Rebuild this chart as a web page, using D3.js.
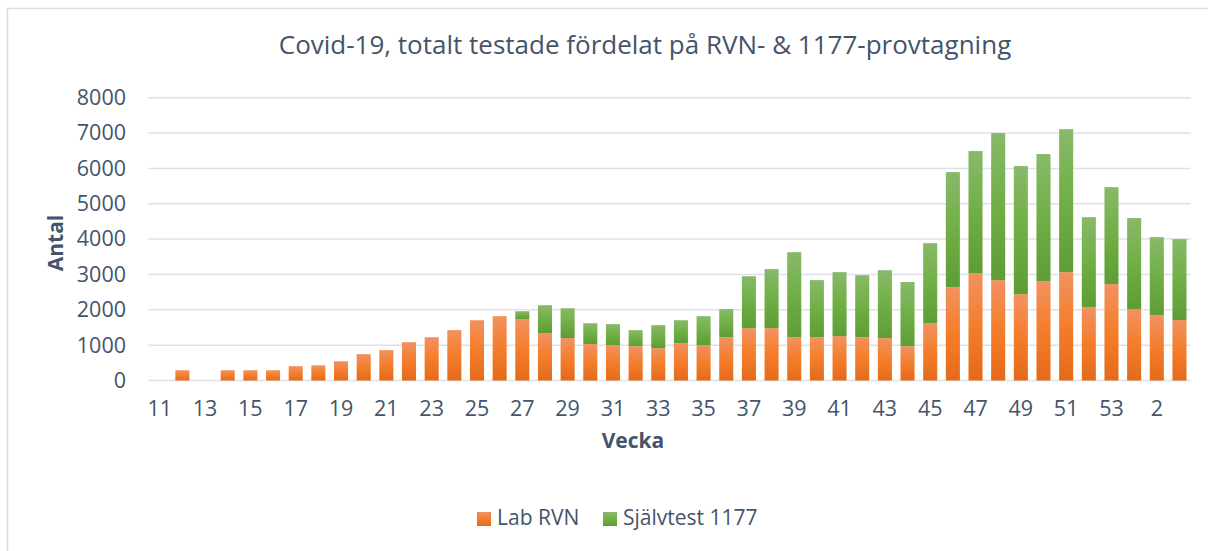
<!DOCTYPE html>
<html>
<head>
<meta charset="utf-8">
<script src="https://cdn.jsdelivr.net/npm/d3@7"></script>
<style>
  body { margin: 0; background: #fff; }
  text { font-family: "Open Sans", sans-serif; fill: #44546A; }
</style>
</head>
<body>
<script>
(function (d3) {
	'use strict';

	var width = 1208,
	    height = 551;

	// weeks 11..53 then 1..3
	var weeks = [11,12,13,14,15,16,17,18,19,20,21,22,23,24,25,26,27,28,29,30,31,32,33,34,35,36,37,38,39,40,41,42,43,44,45,46,47,48,49,50,51,52,53,1,2,3];

	var labRVN = [0,290,0,290,290,290,405,430,545,745,860,1085,1225,1425,1705,1820,1735,1340,1200,1030,1000,970,915,1055,1000,1225,1480,1480,1225,1225,1255,1225,1200,970,1620,2640,3040,2840,2440,2810,3065,2075,2725,2020,1850,1710];

	var sjalvtest = [0,0,0,0,0,0,0,0,0,0,0,0,0,0,0,0,225,790,845,590,595,455,650,650,820,795,1470,1670,2405,1615,1810,1755,1920,1815,2265,3255,3450,4160,3625,3595,4045,2545,2745,2575,2205,2290];

	var yTicks = [0,1000,2000,3000,4000,5000,6000,7000,8000];

	var series = [
		{ key: 'lab', name: 'Lab RVN', values: labRVN, grad: 'gOrange' },
		{ key: 'self', name: 'Självtest 1177', values: sjalvtest, grad: 'gGreen' }
	];

	var rows = weeks.map(function (w, i) {
		return { week: w, lab: labRVN[i], self: sjalvtest[i] };
	});

	var margin = { left: 148.4, right: 1190.8, top: 97.7, bottom: 380.5 };

	var svg = d3.select('body').append('svg')
		.attr('width', width)
		.attr('height', height);

	var defs = svg.append('defs');
	function gradient(id, stops) {
		var g = defs.append('linearGradient')
			.attr('id', id)
			.attr('x1', 0).attr('y1', 0).attr('x2', 0).attr('y2', 1);
		stops.forEach(function (s) {
			g.append('stop').attr('offset', s[0]).attr('stop-color', s[1]);
		});
	}
	gradient('gOrange', [['0%', '#F29260'], ['50%', '#F47D2B'], ['100%', '#E46A19']]);
	gradient('gGreen', [['0%', '#88B96A'], ['50%', '#70AF45'], ['100%', '#5E9C35']]);

	// chart border
	svg.append('rect')
		.attr('x', 7.5).attr('y', 8.5)
		.attr('width', 1220).attr('height', 600)
		.attr('fill', 'none')
		.attr('stroke', '#D9DDE3')
		.attr('stroke-width', 1.5);

	var x = d3.scaleBand()
		.domain(weeks.map(function (w, i) { return i; }))
		.range([margin.left, margin.right])
		.paddingInner(0.38)
		.paddingOuter(0.19);

	var y = d3.scaleLinear()
		.domain([0, 8000])
		.range([margin.bottom, margin.top]);

	// gridlines
	svg.append('g').selectAll('line')
		.data(yTicks).enter()
		.append('line')
		.attr('x1', margin.left).attr('x2', margin.right)
		.attr('y1', function (d) { return y(d); })
		.attr('y2', function (d) { return y(d); })
		.attr('stroke', '#DEE2E8')
		.attr('stroke-width', 1.5);

	// y labels
	var yAxis = d3.axisLeft(y).tickValues(yTicks).tickFormat(d3.format('d')).tickSize(0).tickPadding(0);
	var gy = svg.append('g')
		.attr('transform', 'translate(126,0)')
		.call(yAxis);
	gy.select('.domain').remove();
	gy.selectAll('text')
		.attr('font-size', '21.5px')
		.style('font-family', '"Open Sans", sans-serif')
		.attr('fill', '#44546A');

	// x labels
	var xAxis = d3.axisBottom(x)
		.tickValues(d3.range(0, weeks.length, 2))
		.tickFormat(function (i) { return weeks[i]; })
		.tickSize(0).tickPadding(0);
	var gx = svg.append('g')
		.attr('transform', 'translate(0,' + (margin.bottom + 20) + ')')
		.call(xAxis);
	gx.select('.domain').remove();
	gx.selectAll('text')
		.attr('font-size', '21.5px')
		.style('font-family', '"Open Sans", sans-serif')
		.attr('fill', '#44546A');

	// stacked bars
	var stack = d3.stack().keys(series.map(function (s) { return s.key; }));
	var stacked = stack(rows);

	svg.append('g').selectAll('g')
		.data(stacked).enter()
		.append('g')
		.attr('fill', function (d, i) { return 'url(#' + series[i].grad + ')'; })
		.selectAll('rect')
		.data(function (d) { return d.map(function (p, i) { return { p: p, i: i }; }); })
		.enter()
		.filter(function (d) { return d.p[1] - d.p[0] > 0; })
		.append('rect')
		.attr('x', function (d) { return x(d.i); })
		.attr('width', x.bandwidth())
		.attr('y', function (d) { return y(d.p[1]); })
		.attr('height', function (d) { return y(d.p[0]) - y(d.p[1]); });

	// title
	svg.append('text')
		.attr('x', 645).attr('y', 54)
		.attr('text-anchor', 'middle')
		.attr('font-size', '26px')
		.text('Covid-19, totalt testade fördelat på RVN- & 1177-provtagning');

	// axis titles
	svg.append('text')
		.attr('transform', 'translate(63,243) rotate(-90)')
		.attr('text-anchor', 'middle')
		.attr('font-size', '21px')
		.attr('font-weight', 'bold')
		.text('Antal');

	svg.append('text')
		.attr('x', 633).attr('y', 448)
		.attr('text-anchor', 'middle')
		.attr('font-size', '21px')
		.attr('font-weight', 'bold')
		.text('Vecka');

	// legend
	var legendPos = [477, 603];
	var lg = svg.append('g').selectAll('g')
		.data(series).enter()
		.append('g')
		.attr('transform', function (d, i) { return 'translate(' + legendPos[i] + ',512)'; });
	lg.append('rect')
		.attr('width', 14).attr('height', 14)
		.attr('fill', function (d) { return 'url(#' + d.grad + ')'; });
	lg.append('text')
		.attr('x', 20).attr('y', 13)
		.attr('font-size', '21px')
		.text(function (d) { return d.name; });

})(d3);
</script>
</body>
</html>
